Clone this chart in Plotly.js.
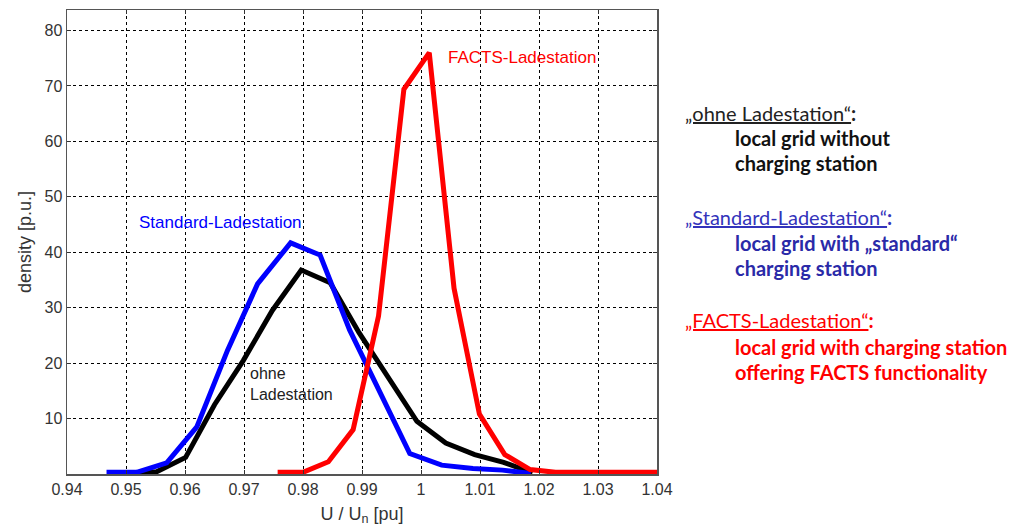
<!DOCTYPE html>
<html>
<head>
<meta charset="utf-8">
<script src="https://cdn.plot.ly/plotly-3.0.1.min.js"></script>
<style>html,body{margin:0;padding:0;background:#fff;}#chart{width:1010px;height:531px;}</style>
</head>
<body>
<div id="chart"></div>
<script>
// ohne Ladestation (black)
const ohneX = [0.9503, 0.9552, 0.9601, 0.9650, 0.9699, 0.9748, 0.9797, 0.9846, 0.9895, 0.9944, 0.9993, 1.0042, 1.0091, 1.0140, 1.0189];
const ohneY = [0.1, 0.4, 3.0, 12.5, 20.5, 29.5, 36.8, 34.5, 25.5, 17.5, 9.5, 5.6, 3.5, 2.1, 0.2];
// Standard-Ladestation (blue)
const stdX = [0.9467, 0.9518, 0.9569, 0.9620, 0.9672, 0.9723, 0.9779, 0.9829, 0.9879, 0.9930, 0.9981, 1.0035, 1.0088, 1.0138, 1.0186];
const stdY = [0.3, 0.3, 2.0, 8.5, 22.3, 34.3, 41.7, 39.5, 26.0, 14.7, 3.7, 1.6, 1.0, 0.7, 0.1];
// FACTS-Ladestation (red)
const factsX = [0.9757, 0.9800, 0.9843, 0.9885, 0.9928, 0.9971, 1.0014, 1.0056, 1.0099, 1.0142, 1.0185, 1.0228, 1.0271, 1.0314, 1.0357, 1.0400];
const factsY = [0.3, 0.3, 2.2, 8.0, 28.5, 69.4, 76.0, 33.5, 10.8, 3.5, 0.8, 0.3, 0.3, 0.3, 0.3, 0.3];

const xTicks = [0.94, 0.95, 0.96, 0.97, 0.98, 0.99, 1.00, 1.01, 1.02, 1.03, 1.04];
const xTickText = ["0.94", "0.95", "0.96", "0.97", "0.98", "0.99", "1", "1.01", "1.02", "1.03", "1.04"];
const yTicks = [10, 20, 30, 40, 50, 60, 70, 80];
const yTickText = ["10", "20", "30", "40", "50", "60", "70", "80"];

const lw = 5;
const traces = [
  {x: ohneX, y: ohneY, mode: 'lines', line: {color: '#000000', width: lw}, name: 'ohne Ladestation'},
  {x: stdX, y: stdY, mode: 'lines', line: {color: '#0000ff', width: lw}, name: 'Standard-Ladestation'},
  {x: factsX, y: factsY, mode: 'lines', line: {color: '#ff0000', width: lw}, name: 'FACTS-Ladestation'}
];

const W = 590, H = 463.7, L = 67, T = 10;
function px(p) { return (p - L) / W; }
function py(p) { return 1 - (p - T) / H; }

const rf = 'Lato, "Noto Sans", sans-serif';
function rtxt(text, x, y, color, bold) {
  return {xref: 'paper', yref: 'paper', x: px(x), y: py(y), xanchor: 'left', yanchor: 'middle',
    text: bold ? '<b>' + text + '</b>' : text, showarrow: false,
    font: {family: rf, size: 20, color: color}};
}

const pf = 'Liberation Sans, Arial, sans-serif';
const annotations = [
  {x: 0.9519, y: 45.3, xref: 'x', yref: 'y', xanchor: 'left', yanchor: 'middle', text: 'Standard-Ladestation', showarrow: false,
    font: {family: pf, size: 17, color: '#0000ff'}},
  {x: 1.0042, y: 75.2, xref: 'x', yref: 'y', xanchor: 'left', yanchor: 'middle', text: 'FACTS-Ladestation', showarrow: false,
    font: {family: pf, size: 17, color: '#ff0000'}},
  {x: 0.9706, y: 16.2, xref: 'x', yref: 'y', xanchor: 'left', yanchor: 'middle', align: 'left', text: 'ohne<br>Ladestation', showarrow: false,
    font: {family: pf, size: 16, color: '#222222'}},
  rtxt('<span style="text-decoration:underline">„ohne Ladestation“</span><b>:</b>', 683, 113, '#222222', false),
  rtxt('local grid without', 733, 138, '#111111', true),
  rtxt('charging station', 733, 163, '#111111', true),
  rtxt('<span style="text-decoration:underline">„Standard-Ladestation“</span><b>:</b>', 683, 217, '#3333bb', false),
  rtxt('local grid with „standard“', 733, 243, '#2a2aa8', true),
  rtxt('charging station', 733, 268, '#2a2aa8', true),
  rtxt('<span style="text-decoration:underline">„FACTS-Ladestation“</span><b>:</b>', 683, 320, '#ff0000', false),
  rtxt('local grid with charging station', 733, 347, '#ff0000', true),
  rtxt('offering FACTS functionality', 733, 372, '#ff0000', true)
];

const axFont = {family: pf, size: 16, color: '#333333'};
const layout = {
  width: 1010, height: 531,
  margin: {l: L, r: 1010 - 657, t: T, b: 531 - 473.7},
  paper_bgcolor: '#ffffff', plot_bgcolor: '#ffffff',
  showlegend: false,
  xaxis: {
    range: [0.94, 1.04], tickvals: xTicks, ticktext: xTickText,
    showgrid: true, gridcolor: '#000000', gridwidth: 1, griddash: '3px,3px',
    zeroline: false, showline: true, linecolor: '#555555', linewidth: 1.5, mirror: 'ticks',
    ticks: 'inside', ticklen: 4, tickcolor: '#333333',
    tickfont: axFont,
    title: {text: 'U / U<sub>n</sub> [pu]', font: {family: pf, size: 18, color: '#333333'}, standoff: 10}
  },
  yaxis: {
    range: [0, 83.7], tickvals: yTicks, ticktext: yTickText,
    showgrid: true, gridcolor: '#000000', gridwidth: 1, griddash: '3px,3px',
    zeroline: false, showline: true, linecolor: '#555555', linewidth: 1.5, mirror: 'ticks',
    ticks: 'inside', ticklen: 4, tickcolor: '#333333',
    tickfont: axFont,
    title: {text: 'density [p.u.]', font: {family: pf, size: 18, color: '#333333'}, standoff: 8}
  },
  annotations: annotations
};

Plotly.newPlot('chart', traces, layout, {displayModeBar: false, staticPlot: true});
</script>
</body>
</html>
